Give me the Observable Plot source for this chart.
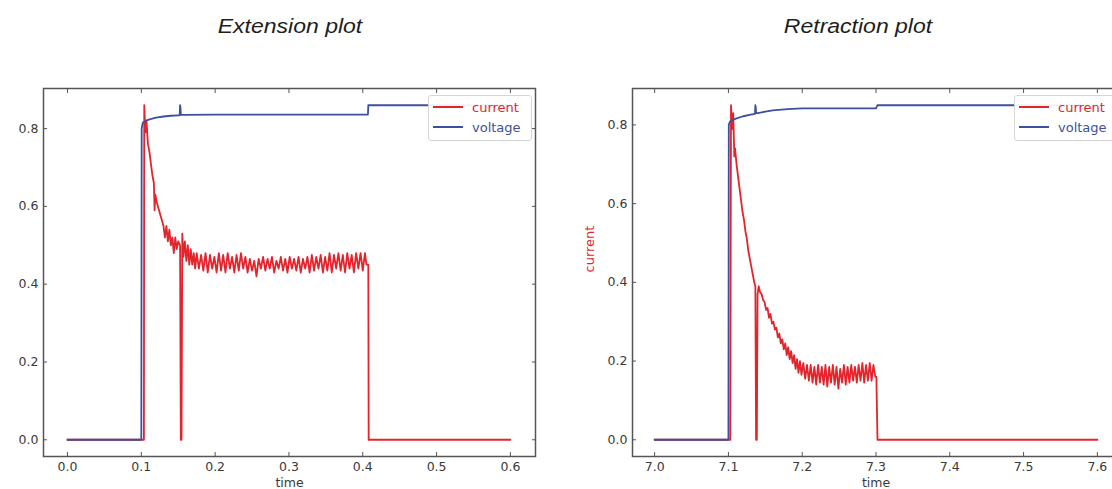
<!DOCTYPE html>
<html>
<head>
<meta charset="utf-8">
<script src="https://cdn.jsdelivr.net/npm/d3@7"></script>
<script src="https://cdn.jsdelivr.net/npm/@observablehq/plot@0.6"></script>
<style>
  html, body { margin: 0; padding: 0; background: #fff; }
  body { width: 1112px; height: 489px; overflow: hidden; position: relative; font-family: "DejaVu Sans", sans-serif; }
  .title { position: absolute; top: 14px; font: italic 20px/24px "Liberation Sans", Arial, sans-serif; color: #1e1e1e; transform: translateX(-50%) scaleX(1.15); white-space: nowrap; }
  .panel { position: absolute; top: 60px; }
  .legend { position: absolute; background: rgba(255,255,255,0.92); border: 1px solid #d6d6d6; border-radius: 3px; font: 13px "DejaVu Sans", sans-serif; }
  .legend .row { position: absolute; left: 4px; height: 16px; display: flex; align-items: center; white-space: nowrap; }
  .legend .swatch { width: 30px; height: 0; border-top: 2px solid; margin-right: 9px; }
</style>
</head>
<body>
<script>
// ---------- Extension plot data ----------
const extVoltT = [0, 0.1, 0.1005, 0.102, 0.105, 0.11, 0.12, 0.13, 0.14, 0.15, 0.152, 0.1525, 0.153, 0.1535, 0.154, 0.16, 0.2, 0.3, 0.407, 0.4075, 0.5, 0.6];
const extVoltV = [0, 0, 0.8, 0.815, 0.819, 0.823, 0.828, 0.831, 0.833, 0.834, 0.834, 0.86, 0.855, 0.838, 0.835, 0.835, 0.836, 0.836, 0.836, 0.86, 0.86, 0.86];

const extCurT = [
  0, 0.1035, 0.104, 0.1055, 0.107, 0.109, 0.111, 0.113, 0.115, 0.117,
  0.118, 0.119, 0.121, 0.124, 0.127, 0.130, 0.132, 0.134, 0.136, 0.138,
  0.140, 0.142, 0.144, 0.146, 0.148, 0.150, 0.1525, 0.1535, 0.1545, 0.1555,
  0.157, 0.159, 0.161, 0.163, 0.165, 0.167, 0.169, 0.171, 0.173, 0.175,
  0.178, 0.181, 0.184, 0.187, 0.190, 0.193, 0.196, 0.199, 0.202, 0.205,
  0.208, 0.211, 0.214, 0.217, 0.220, 0.223, 0.226, 0.229, 0.232, 0.235,
  0.238, 0.241, 0.244, 0.247, 0.250, 0.253, 0.256, 0.259, 0.262, 0.265,
  0.268, 0.271, 0.274, 0.277, 0.280, 0.283, 0.286, 0.289, 0.292, 0.295,
  0.298, 0.301, 0.304, 0.307, 0.310, 0.313, 0.316, 0.319, 0.322, 0.325,
  0.328, 0.331, 0.334, 0.337, 0.340, 0.343, 0.346, 0.349, 0.352, 0.355,
  0.358, 0.361, 0.364, 0.367, 0.370, 0.373, 0.376, 0.379, 0.382, 0.385,
  0.388, 0.391, 0.394, 0.397, 0.400, 0.403, 0.405, 0.4075, 0.408, 0.6
];
const extCurV = [
  0, 0, 0.86, 0.79, 0.82, 0.76, 0.74, 0.71, 0.68, 0.66,
  0.59, 0.63, 0.61, 0.59, 0.57, 0.55, 0.52, 0.55, 0.51, 0.54,
  0.50, 0.52, 0.48, 0.52, 0.49, 0.51, 0.50, 0.0, 0.0, 0.53,
  0.47, 0.51, 0.46, 0.50, 0.45, 0.49, 0.45, 0.48, 0.44, 0.48,
  0.44, 0.475, 0.435, 0.48, 0.43, 0.475, 0.44, 0.47, 0.43, 0.48,
  0.435, 0.475, 0.43, 0.48, 0.44, 0.47, 0.43, 0.475, 0.435, 0.48,
  0.44, 0.47, 0.43, 0.465, 0.435, 0.46, 0.42, 0.465, 0.44, 0.47,
  0.435, 0.465, 0.44, 0.47, 0.43, 0.46, 0.44, 0.47, 0.435, 0.465,
  0.43, 0.47, 0.44, 0.465, 0.435, 0.47, 0.43, 0.465, 0.44, 0.47,
  0.43, 0.475, 0.435, 0.47, 0.44, 0.475, 0.43, 0.47, 0.435, 0.48,
  0.43, 0.475, 0.44, 0.48, 0.435, 0.475, 0.43, 0.48, 0.44, 0.475,
  0.43, 0.48, 0.44, 0.48, 0.435, 0.48, 0.45, 0.45, 0, 0
];
const extXTicks = [0.0, 0.1, 0.2, 0.3, 0.4, 0.5, 0.6];

// ---------- Retraction plot data ----------
const retVoltT = [7.0, 7.1, 7.1005, 7.102, 7.105, 7.11, 7.12, 7.13, 7.136, 7.1365, 7.137, 7.1375, 7.14, 7.15, 7.16, 7.18, 7.2, 7.25, 7.3, 7.302, 7.4, 7.5, 7.6];
const retVoltV = [0, 0, 0.8, 0.808, 0.812, 0.816, 0.822, 0.826, 0.828, 0.85, 0.845, 0.83, 0.83, 0.834, 0.837, 0.84, 0.842, 0.842, 0.842, 0.85, 0.85, 0.85, 0.85];

const retCurT = [
  7.0, 7.1025, 7.1035, 7.105, 7.1065, 7.108, 7.109, 7.111, 7.113, 7.115,
  7.117, 7.119, 7.121, 7.123, 7.125, 7.127, 7.129, 7.131, 7.133, 7.135,
  7.1365, 7.1375, 7.1385, 7.1395, 7.141, 7.143, 7.145, 7.147, 7.149, 7.151,
  7.153, 7.155, 7.157, 7.159, 7.161, 7.163, 7.165, 7.167, 7.169, 7.171,
  7.173, 7.175, 7.177, 7.179, 7.181, 7.183, 7.185, 7.187, 7.189, 7.191,
  7.193, 7.195, 7.197, 7.199, 7.2015, 7.204, 7.2065, 7.209, 7.2115, 7.214,
  7.2165, 7.219, 7.2215, 7.224, 7.2265, 7.229, 7.2315, 7.234, 7.2365, 7.239,
  7.2415, 7.244, 7.2465, 7.249, 7.2515, 7.254, 7.2565, 7.259, 7.2615, 7.264,
  7.2665, 7.269, 7.2715, 7.274, 7.2765, 7.279, 7.2815, 7.284, 7.2865, 7.289,
  7.2915, 7.294, 7.2965, 7.299, 7.3005, 7.302, 7.6
];
const retCurV = [
  0, 0, 0.85, 0.79, 0.83, 0.72, 0.74, 0.70, 0.67, 0.64,
  0.61, 0.58, 0.56, 0.53, 0.51, 0.48, 0.46, 0.44, 0.42, 0.40,
  0.39, 0, 0, 0.37, 0.39, 0.375, 0.37, 0.355, 0.35, 0.33,
  0.335, 0.31, 0.32, 0.295, 0.30, 0.28, 0.285, 0.26, 0.27, 0.245,
  0.255, 0.23, 0.245, 0.215, 0.235, 0.205, 0.225, 0.195, 0.215, 0.18,
  0.205, 0.17, 0.2, 0.165, 0.195, 0.155, 0.19, 0.15, 0.19, 0.145,
  0.185, 0.14, 0.19, 0.145, 0.185, 0.14, 0.19, 0.135, 0.185, 0.145,
  0.19, 0.14, 0.185, 0.13, 0.18, 0.145, 0.19, 0.14, 0.185, 0.145,
  0.19, 0.15, 0.185, 0.145, 0.19, 0.15, 0.195, 0.145, 0.19, 0.15,
  0.195, 0.15, 0.19, 0.16, 0.16, 0, 0
];
const retXTicks = [7.0, 7.1, 7.2, 7.3, 7.4, 7.5, 7.6];

const yTicks = [0.0, 0.2, 0.4, 0.6, 0.8];
const seriesNames = ["current", "voltage"];
const titles = ["Extension plot", "Retraction plot"];

const RED = "#e3242b";
const BLUE = "#3d509f";
const AXIS = "#555";

function rows(ts, vs) { return ts.map((t, i) => ({t, v: vs[i]})); }

function panel({curT, curV, voltT, voltV, xTicks, xDomain, yDomain, width, marginLeft, marginRight, ylabel}) {
  const marks = [
    Plot.line(rows(curT, curV), {x: "t", y: "v", stroke: RED, strokeWidth: 1.8}),
    Plot.line(rows(voltT, voltV), {x: "t", y: "v", stroke: BLUE, strokeWidth: 1.8}),
    Plot.frame({stroke: AXIS, strokeWidth: 1.5}),
    Plot.axisX(xTicks, {anchor: "bottom", tickSize: -4, tickPadding: 10, tickFormat: d3.format(".1f"), label: "time", labelAnchor: "center", labelOffset: 30, labelArrow: "none", stroke: AXIS, fill: "#3a3a3a"}),
    Plot.axisX(xTicks, {anchor: "top", tickSize: -4, tickFormat: () => "", label: null, stroke: AXIS}),
    Plot.axisY(yTicks, {anchor: "left", tickSize: -4, tickPadding: 9, tickFormat: d3.format(".1f"), label: null, stroke: AXIS, fill: "#3a3a3a"}),
    Plot.axisY(yTicks, {anchor: "right", tickSize: -4, tickFormat: () => "", label: null, stroke: AXIS})
  ];
  if (ylabel) marks.push(Plot.text([ylabel], {frameAnchor: "left", dx: -43, rotate: -90, fill: RED, fontSize: 13}));
  return Plot.plot({
    width, height: 429,
    marginLeft, marginRight, marginTop: 28, marginBottom: 33,
    x: {domain: xDomain},
    y: {domain: yDomain},
    style: {fontSize: "12.5px", fontFamily: "DejaVu Sans, sans-serif", color: "#3a3a3a", background: "transparent"},
    marks
  });
}

const left = panel({curT: extCurT, curV: extCurV, voltT: extVoltT, voltV: extVoltV, xTicks: extXTicks,
  xDomain: [-0.0325, 0.634], yDomain: [-0.043, 0.903], width: 560, marginLeft: 43, marginRight: 25});
left.classList.add("panel"); left.style.left = "0px";
document.body.appendChild(left);

const right = panel({curT: retCurT, curV: retCurV, voltT: retVoltT, voltV: retVoltV, xTicks: retXTicks,
  xDomain: [6.97, 7.63], yDomain: [-0.0425, 0.8925], width: 562, marginLeft: 72, marginRight: 3, ylabel: "current"});
right.classList.add("panel"); right.style.left = "560px";
document.body.appendChild(right);

function addTitle(text, cx) {
  const d = document.createElement("div");
  d.className = "title"; d.textContent = text; d.style.left = cx + "px";
  document.body.appendChild(d);
}
addTitle(titles[0], 290);
addTitle(titles[1], 858);

function addLegend(x, y) {
  const box = document.createElement("div");
  box.className = "legend";
  Object.assign(box.style, {left: x + "px", top: y + "px", width: "102px", height: "44px"});
  const colors = [RED, BLUE];
  seriesNames.forEach((name, i) => {
    const r = document.createElement("div");
    r.className = "row"; r.style.top = (3 + i * 20) + "px";
    const s = document.createElement("span"); s.className = "swatch"; s.style.borderColor = colors[i];
    const t = document.createElement("span"); t.textContent = name; t.style.color = colors[i];
    r.appendChild(s); r.appendChild(t); box.appendChild(r);
  });
  document.body.appendChild(box);
}
addLegend(428, 95);
addLegend(1014, 95);
</script>
</body>
</html>
